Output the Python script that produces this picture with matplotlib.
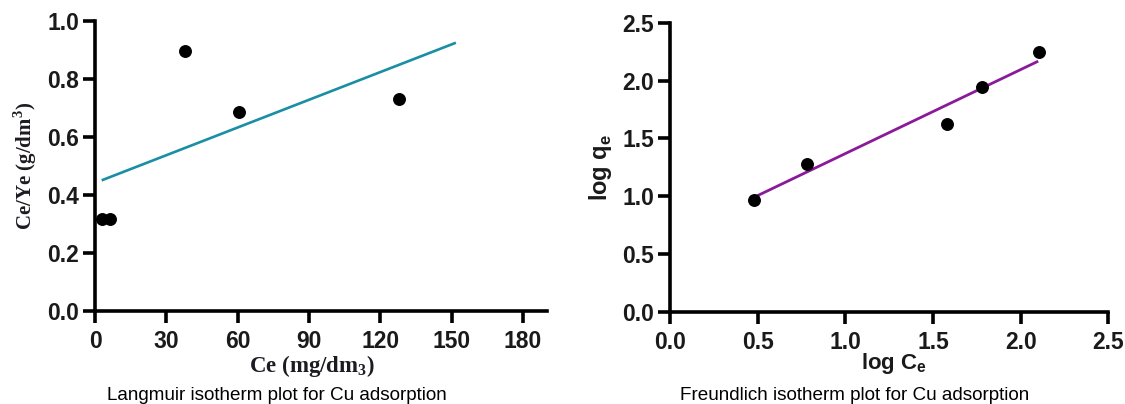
import matplotlib
matplotlib.use("Agg")
import matplotlib.pyplot as plt

# Langmuir data
lang_ce = [3.1, 6.3, 38.0, 60.5, 128.0]
lang_ratio = [0.318, 0.318, 0.895, 0.686, 0.732]
lang_fit_x = [2.8, 151.8]
lang_fit_y = [0.45, 0.925]
lang_xticks = [0, 30, 60, 90, 120, 150, 180]
lang_yticks = [0.0, 0.2, 0.4, 0.6, 0.8, 1.0]

# Freundlich data
fr_logce = [0.478, 0.78, 1.578, 1.777, 2.106]
fr_logqe = [0.97, 1.275, 1.628, 1.945, 2.245]
fr_fit_x = [0.48, 2.10]
fr_fit_y = [0.99, 2.167]
fr_ticks = [0.0, 0.5, 1.0, 1.5, 2.0, 2.5]

W, H = 1125, 404
fig = plt.figure(figsize=(W / 100, H / 100), dpi=100)

tick_font = dict(family="Liberation Sans", weight="bold", size=16.5)


def style(ax):
    for s in ("top", "right"):
        ax.spines[s].set_visible(False)
    for s in ("left", "bottom"):
        ax.spines[s].set_linewidth(2.6)
        ax.spines[s].set_color("black")
        ax.spines[s].set_capstyle("projecting")
    ax.tick_params(width=2.6, length=8.5, direction="out", color="black", pad=3)
    ax.tick_params(axis="x", pad=5.5)
    for lab in ax.get_xticklabels() + ax.get_yticklabels():
        lab.set_fontfamily(tick_font["family"])
        lab.set_fontweight(tick_font["weight"])
        lab.set_fontsize(tick_font["size"])
        lab.set_color("#1a1a1a")


# Left panel
ax1 = fig.add_axes([95 / W, 1 - 310.7 / H, (546.7 - 95) / W, (310.7 - 21) / H])
ax1.plot(lang_fit_x, lang_fit_y, color="#1a8ea3", lw=1.9, solid_capstyle="butt")
ax1.plot(lang_ce, lang_ratio, "o", color="black", ms=8.3, clip_on=False)
ax1.set_xlim(0, 190)
ax1.set_ylim(0, 1.0)
ax1.set_xticks(lang_xticks)
ax1.set_yticks(lang_yticks)
ax1.set_yticklabels([f"{v:.1f}" for v in lang_yticks])
style(ax1)
fig.text(312 / W, 1 - 366 / H, "Ce (mg/dm$_\\mathregular{3}$)", ha="center", va="center",
         family="Liberation Serif", weight="bold", size=16.5, color="#1e1a22")
fig.text(25 / W, 1 - 166 / H, "Ce/Ye (g/dm$^\\mathregular{3}$)", ha="center", va="center", rotation=90,
         family="Liberation Serif", weight="bold", size=15, color="#1e1a22")
fig.text(277 / W, 1 - 395 / H, "Langmuir isotherm plot for Cu adsorption", ha="center", va="center",
         family="Liberation Sans", size=13.6, color="black")

# Right panel
ax2 = fig.add_axes([670 / W, 1 - 311.7 / H, (1108.3 - 670) / W, (311.7 - 22.7) / H])
ax2.plot(fr_fit_x, fr_fit_y, color="#8b1a9a", lw=2.0, solid_capstyle="butt")
ax2.plot(fr_logce, fr_logqe, "o", color="black", ms=8.3, clip_on=False)
ax2.set_xlim(0, 2.5)
ax2.set_ylim(0, 2.5)
ax2.set_xticks(fr_ticks)
ax2.set_yticks(fr_ticks)
ax2.set_xticklabels([f"{v:.1f}" for v in fr_ticks])
ax2.set_yticklabels([f"{v:.1f}" for v in fr_ticks])
style(ax2)
fig.text(894 / W, 1 - 363 / H, "log C$_\\mathregular{e}$", ha="center", va="center",
         family="Liberation Sans", weight="bold", size=16, color="#1a1a1a")
fig.text(601 / W, 1 - 167 / H, "log q$_\\mathregular{e}$", ha="center", va="center", rotation=90,
         family="Liberation Sans", weight="bold", size=17, color="#1a1a1a")
fig.text(855 / W, 1 - 395 / H, "Freundlich isotherm plot for Cu adsorption", ha="center", va="center",
         family="Liberation Sans", size=13.6, color="black")

fig.savefig("out.png", dpi=100)
